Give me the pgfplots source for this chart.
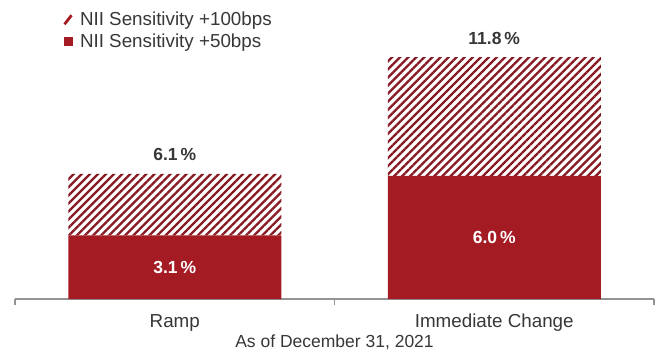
\documentclass[border=0pt]{standalone}
\usepackage{pgfplots}
\pgfplotsset{compat=1.18}
\usepackage{fontspec}
\setmainfont{Liberation Sans}
\usetikzlibrary{patterns.meta}
\definecolor{barred}{RGB}{165,27,36}
\definecolor{hatchred}{RGB}{135,25,35}
\definecolor{txt}{RGB}{55,55,55}
\begin{document}
\begin{tikzpicture}
\begin{axis}[
  scale only axis, width=639bp, height=299bp,
  xmin=-0.5, xmax=1.5, ymin=0, ymax=14.585,
  axis x line=bottom, axis y line=none,
  axis line style={-, draw=gray!85, line width=1.2bp},
  xtick={0,1}, xticklabels={Ramp, Immediate Change},
  major tick length=0pt,
  extra x ticks={-0.5,0.5,1.5}, extra x tick labels={},
  extra x tick style={tick align=outside, major tick length=6bp, tick style={draw=gray!85, line width=1.2bp}},
  xticklabel style={font=\fontsize{18.8bp}{22bp}\selectfont, text=txt, anchor=base, yshift=-28bp},
  xlabel={As of December 31, 2021},
  xlabel style={font=\fontsize{17.5bp}{21bp}\selectfont, text=txt, at={(axis description cs:0.5,0)}, anchor=base, yshift=-48bp},
  ybar stacked, bar width=213bp,
  reverse legend,
  legend style={at={(axis description cs:0.075,1)}, anchor=north west, yshift=-10bp,
    draw=none, fill=none, font=\fontsize{18.8bp}{22bp}\selectfont, text=txt,
    row sep=3bp, column sep=5bp, inner sep=0pt, cells={anchor=west}},
  legend cell align=left,
  clip=false,
]
\addplot[fill=barred, draw=none,
  legend image code/.code={\fill[barred] (0bp,-4.5bp) rectangle (9.5bp,4.5bp);}]
  coordinates {(0,3.1) (1,6.0)};
\addlegendentry{NII Sensitivity +50bps}
\addplot[draw=none, pattern={Lines[angle=45,distance=5.7bp,line width=2.3bp]}, pattern color=hatchred,
  legend image code/.code={\draw[barred, line width=2.8bp] (1bp,-4.5bp) -- (8bp,4.5bp);}]
  coordinates {(0,3.0) (1,5.8)};
\addlegendentry{NII Sensitivity +100bps}
\end{axis}
\begin{axis}[
  scale only axis, width=639bp, height=299bp,
  xmin=-0.5, xmax=1.5, ymin=0, ymax=14.585,
  hide axis, clip=false,
  nodes near coords, point meta=explicit symbolic,
  nodes near coords={\pgfplotspointmeta\,\%},
  every node near coord/.append style={font=\bfseries\fontsize{17.5bp}{21bp}\selectfont, anchor=base},
]
\addplot[only marks, mark=none, every node near coord/.append style={text=txt, yshift=13bp}]
  table[x=x, y=y, meta=t] {
    x y t
    0 6.1 6.1
    1 11.8 11.8
  };
\addplot[only marks, mark=none, every node near coord/.append style={text=white, yshift=-6.5bp}]
  table[x=x, y=y, meta=t] {
    x y t
    0 1.55 3.1
    1 3.0 6.0
  };
\end{axis}
\useasboundingbox (-15bp,-53bp) rectangle (646bp,299bp);
\end{tikzpicture}
\end{document}
